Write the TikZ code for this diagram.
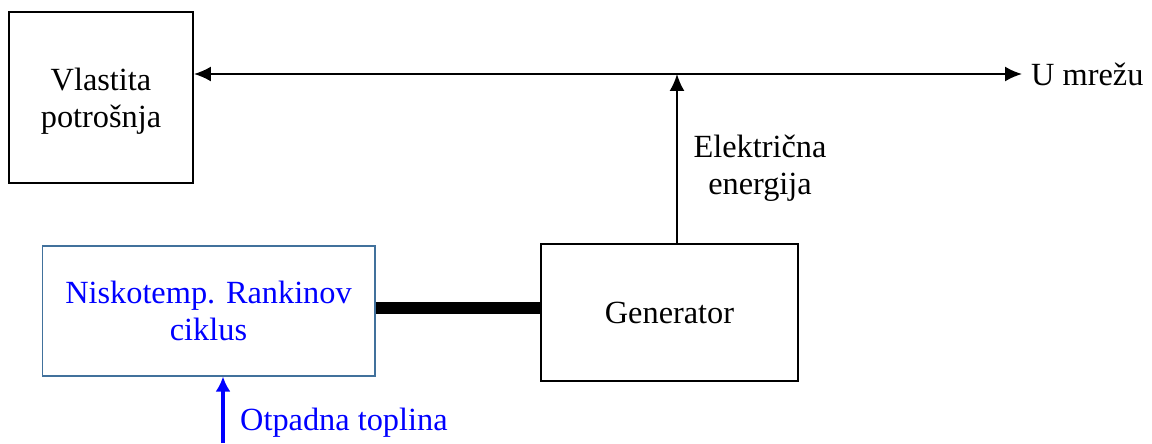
\documentclass[tikz,border=0pt]{standalone}
\usepackage{fontspec}
\setmainfont{Liberation Serif}
\usetikzlibrary{arrows.meta}
\definecolor{okvirplavi}{RGB}{65,113,156}

\begin{document}
\begin{tikzpicture}[x=0.02cm, y=-0.02cm,
    font=\fontsize{18.4pt}{21pt}\selectfont,
    blok/.style={draw, line width=1.1pt, align=center, inner sep=0pt},
    veza/.style={line width=1.1pt, >={Latex[length=0.34cm, width=0.3cm]}}]

    \useasboundingbox (0,0) rectangle (1152,443);

    % Sabirnica na vrhu
    \def\ysab{74}
    \coordinate (mreza) at (1022, \ysab);
    \coordinate (spoj) at (677, \ysab);

    % ==============================================
    % Blokovi
    % ==============================================
    \node[blok, minimum width=3.68cm, minimum height=3.42cm] (potrosnja) at (101, 97.5) {};
    \node[align=center] (potrosnjatekst) at (101, 101) {Vlastita\\potrošnja};
    \node[blok, minimum width=5.14cm, minimum height=2.74cm] (generator) at (669.5, 312.5) {Generator};
    \node[blok, draw=okvirplavi, line width=0.6pt, text=blue,
          minimum width=6.66cm, minimum height=2.6cm] (rankine) at (208.5, 311) {Niskotemp. Rankinov\\ciklus};

    % ==============================================
    % Veze
    % ==============================================
    % Sabirnica: vlastita potrosnja <-> mreza
    \draw[veza, <->] (potrosnja.east |- mreza) -- (mreza);
    \node[anchor=west] (umrezu) at ([xshift=0.06cm]mreza) {U mrežu};

    % Generator -> sabirnica
    \draw[veza, ->] (generator.north -| spoj) -- (spoj);
    \node[align=center] (elenergija) at (760, 168) {Električna\\energija};

    % Vratilo izmedju ciklusa i generatora
    \draw[line width=6.8pt] (rankine.east |- 0,308) -- (generator.west |- 0,308);

    % Otpadna toplina -> ciklus
    \coordinate (toplina) at (223, 443);
    \draw[blue, line width=2.3pt, ->, >={Latex[length=0.3cm, width=0.3cm]}] (toplina) -- (toplina |- rankine.south);
    \node[anchor=base west, text=blue] (otpadna) at (234, 430) {Otpadna toplina};

\end{tikzpicture}
\end{document}
